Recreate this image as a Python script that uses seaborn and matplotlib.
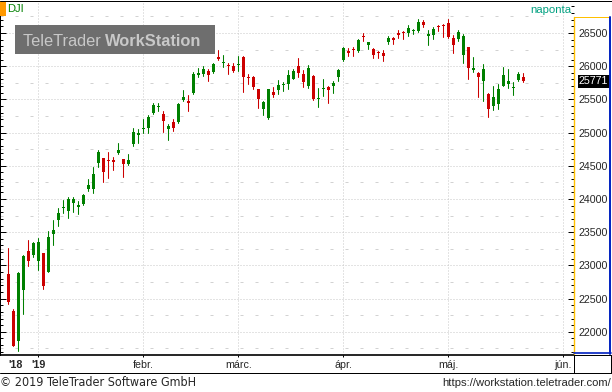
import matplotlib
matplotlib.use('Agg')
import matplotlib.pyplot as plt
import matplotlib.ticker as mticker
from matplotlib.patches import Rectangle
from matplotlib.lines import Line2D
import pandas as pd
import seaborn as sns

# DJI daily candles, 21 Dec 2018 - 22 May 2019 (exchange holidays left out)
holidays = ['2018-12-25', '2019-01-01', '2019-01-21', '2019-02-18', '2019-04-19']
dates = pd.bdate_range('2018-12-21', '2019-05-22', freq='C', holidays=holidays)

opens = [22870, 22315, 21860, 22630, 23215, 23155, 23070, 23185, 22905, 23478,
         23690, 23865, 23825, 23945, 23885, 23925, 24150, 24156, 24547, 24620,
         24590, 24590, 24690, 24605, 24525, 24830, 24965, 25050, 25075, 25291,
         25385, 25280, 25054, 25160, 25165, 25491, 25480, 25590, 25867, 25882,
         25928, 25917, 26143, 26050, 26010, 26003, 26025, 26133, 25833, 25838,
         25657, 25355, 25225, 25611, 25642, 25712, 25736, 25812, 26003, 25882,
         25707, 25852, 25510, 25660, 25682, 25702, 25842, 26093, 26234, 26250,
         26234, 26450, 26319, 26259, 26200, 26203, 26360, 26430, 26505, 26500,
         26495, 26525, 26535, 26670, 26459, 26470, 26595, 26615, 26646, 26425,
         26410, 26173, 26284, 25943, 25902, 25782, 25581, 25405, 25426, 25707,
         25732, 25675, 25792, 25837]
highs = [23265, 22340, 22900, 23150, 23380, 23350, 23410, 23185, 23518, 23690,
         23864, 23985, 24030, 24025, 23975, 24080, 24305, 24480, 24738, 24620,
         24708, 24637, 24850, 24605, 24678, 25070, 25054, 25205, 25270, 25441,
         25445, 25325, 25130, 25205, 25440, 25637, 25562, 25910, 25968, 26003,
         25963, 26050, 26244, 26168, 26043, 26043, 26154, 26155, 25883, 25853,
         25657, 25480, 25660, 25692, 25792, 25757, 25943, 25953, 26123, 25943,
         26018, 25870, 25667, 25800, 25700, 25782, 25958, 26294, 26269, 26289,
         26410, 26495, 26369, 26279, 26234, 26244, 26455, 26445, 26545, 26525,
         26620, 26560, 26711, 26696, 26545, 26586, 26620, 26635, 26706, 26470,
         26540, 26485, 26284, 26139, 25917, 26033, 25590, 25707, 25732, 25983,
         25958, 25767, 25917, 25902]
lows = [22415, 21792, 21712, 22268, 22995, 23130, 22935, 22650, 22905, 23305,
        23595, 23790, 23720, 23805, 23780, 23905, 24125, 24095, 24477, 24256,
        24320, 24437, 24678, 24336, 24512, 24803, 24848, 24998, 24998, 25280,
        25325, 25014, 24885, 25029, 25150, 25480, 25330, 25580, 25842, 25857,
        25782, 25900, 26093, 25983, 25882, 25917, 25932, 25611, 25732, 25657,
        25370, 25265, 25210, 25540, 25581, 25627, 25661, 25803, 25833, 25692,
        25672, 25491, 25390, 25556, 25441, 25592, 25782, 26078, 26153, 26158,
        26218, 26384, 26259, 26128, 26119, 26083, 26330, 26334, 26420, 26410,
        26460, 26480, 26520, 26595, 26319, 26410, 26535, 26445, 26425, 26203,
        26384, 26053, 25807, 25908, 25532, 25480, 25239, 25340, 25355, 25707,
        25676, 25566, 25777, 25760]
closes = [22450, 21792, 22880, 23140, 23065, 23330, 23346, 22690, 23433, 23531,
          23787, 23879, 24002, 23996, 23910, 24066, 24207, 24370, 24706, 24404,
          24576, 24553, 24737, 24530, 24580, 25015, 25000, 25064, 25239, 25412,
          25395, 25170, 25106, 25075, 25426, 25543, 25450, 25883, 25900, 25954,
          25867, 26032, 26108, 26058, 26000, 25932, 26033, 25842, 25822, 25692,
          25501, 25465, 25657, 25566, 25722, 25717, 25872, 25928, 25902, 25762,
          25973, 25506, 25516, 25667, 25642, 25742, 25943, 26274, 26199, 26244,
          26395, 26440, 26360, 26169, 26194, 26158, 26425, 26394, 26475, 26495,
          26575, 26535, 26670, 26616, 26485, 26560, 26590, 26610, 26445, 26324,
          26510, 26450, 25977, 25973, 25842, 25958, 25351, 25532, 25657, 25867,
          25777, 25682, 25882, 25771]

month_pos = [6, 27, 46, 67, 88, 111]
month_labels = ["'19", 'febr.', 'márc.', 'ápr.', 'máj.', 'jún.']
y_ticks = list(range(22000, 27000, 500))
last_price = 25771

df = pd.DataFrame({'date': dates, 'open': opens, 'high': highs, 'low': lows, 'close': closes})
df['idx'] = range(len(df))
df['dir'] = ['up' if c >= o else 'down' for o, c in zip(df['open'], df['close'])]
colors = {'up': '#008000', 'down': '#CC0000'}

sns.set_style('white')
plt.rcParams['font.family'] = ['Liberation Sans', 'DejaVu Sans']

W, H = 612, 392
def rect(x0, y0, x1, y1):
    return [x0 / W, 1 - y1 / H, (x1 - x0) / W, (y1 - y0) / H]

fig = plt.figure(figsize=(W / 100, H / 100), dpi=100)
ax = fig.add_axes(rect(0, 1, 573.5, 354.5))

# grid: dotted at 500s, sparse dashes at 250s, dotted month lines
for v in y_ticks:
    ax.hlines(v, -1.66, 111, colors='#C8C8C8', lw=0.72, linestyles=(0, (1, 2)), zorder=0)
    ax.hlines(v + 250, -1.66, 111, colors='#D2D2D2', lw=0.72, linestyles=(0, (3, 12)), zorder=0)
ax.hlines(21750, -1.66, 111, colors='#D2D2D2', lw=0.72, linestyles=(0, (3, 12)), zorder=0)
for p in month_pos:
    ax.axvline(p, color='#C8C8C8', lw=0.72, ls=(0, (1, 2)), zorder=0)

# wicks
wick = pd.concat([df[['idx', 'dir']].assign(price=df['low']),
                  df[['idx', 'dir']].assign(price=df['high'])])
sns.lineplot(data=wick, x='idx', y='price', hue='dir', units='idx', estimator=None,
             palette=colors, lw=0.75, legend=False, sort=False, ax=ax)
# bodies
body_h = (df['close'] - df['open']).abs().clip(lower=15)
body_b = df[['open', 'close']].min(axis=1)
ax.bar(df['idx'], body_h, bottom=body_b, width=0.6,
       color=[colors[d] for d in df['dir']], linewidth=0, zorder=3)

ax.set_xlim(-1.66, 113.04)
ax.set_ylim(21658, 26982)
ax.set_xlabel('')
ax.set_ylabel('')

ax.set_yticks(y_ticks)
ax.yaxis.set_minor_locator(mticker.MultipleLocator(100))
ax.tick_params(axis='y', which='both', left=True, right=True, labelleft=False,
               labelright=True, direction='in', color='black', width=0.72)
ax.tick_params(axis='y', which='major', length=4, pad=25, labelsize=7.7)
ax.tick_params(axis='y', which='minor', length=2.2)
for t in ax.get_yticklabels():
    t.set_horizontalalignment('right')

ax.set_xticks(month_pos)
ax.set_xticklabels(month_labels)
ax.set_xticks([0], ["'18"], minor=True)
ax.tick_params(axis='x', which='major', bottom=True, direction='out', length=1.6,
               width=0.72, color='black', pad=2.5, labelsize=7.7)
ax.tick_params(axis='x', which='minor', bottom=True, length=0, pad=4.1, labelsize=7.7)
ax.get_xticklabels()[0].set_fontweight('bold')
ax.get_xticklabels(minor=True)[0].set_fontweight('bold')
ax.get_xticklabels(minor=True)[0].set_horizontalalignment('left')

for s in ['top', 'right']:
    ax.spines[s].set_visible(False)
ax.spines['left'].set_color('black')
ax.spines['left'].set_linewidth(0.72)
ax.spines['bottom'].set_color('black')
ax.spines['bottom'].set_linewidth(1.2)

# last price box
ax.annotate(str(last_price), xy=(1, last_price), xycoords=('axes fraction', 'data'),
            xytext=(25, 0), textcoords='offset points', ha='right', va='center',
            color='white', fontsize=7.7,
            bbox=dict(boxstyle='square,pad=0.12', fc='black', ec='none'))

# frames around the axis panels
def fline(x0, y0, x1, y1, color='black', lw=0.72):
    fig.add_artist(Line2D([x0 / W, x1 / W], [1 - y0 / H, 1 - y1 / H], color=color, lw=lw))

fline(0, 0.5, 612, 0.5)
fline(573.5, 17, 573.5, 353.5, color='#FFC000', lw=1.0)
fline(574, 17, 610, 17, color='#FFC000', lw=0.72)
fline(610.3, 17, 610.3, 353.5, color='#0020C0', lw=1.4)
fline(573.5, 353.2, 611, 353.2, color='#0020C0', lw=1.2)
fline(573.5, 355, 611, 355)
fline(0, 372.5, 611, 372.5)
fline(573.5, 355, 573.5, 372.5)
fline(610.8, 355, 610.8, 372.5)

# watermark / labels
ax.add_patch(Rectangle((15 / W, 1 - 54 / H), 200 / W, 29 / H, transform=fig.transFigure,
                       facecolor='#6E6E6E', edgecolor='none', zorder=5, clip_on=False))
t1 = ax.text(23 / W, 1 - 46 / H, 'TeleTrader ', color='#C8C8C8', fontsize=11.8, zorder=6,
             transform=fig.transFigure)
ax.annotate('WorkStation', xy=(1, 0), xycoords=t1, va='bottom', ha='left',
            color='#C8C8C8', fontsize=11.8, fontweight='bold', zorder=6,
            annotation_clip=False)
fig.patches.append(Rectangle((0, 1 - 16 / H), 5.5 / W, 15 / H, transform=fig.transFigure,
                             facecolor='#FF9900', edgecolor='none'))
fig.text(7.5 / W, 1 - 8.7 / H, 'DJI', color='#008000', fontsize=8, va='center')
fig.text(571 / W, 1 - 10 / H, 'naponta', color='#00A080', fontsize=8.2, va='center', ha='right')
fig.text(0, 1 - 383 / H, '\u00a9 2019 TeleTrader Software GmbH', fontsize=9, va='center',
         family=['DejaVu Sans'], stretch='condensed')
fig.text(611 / W, 1 - 383 / H, 'https://workstation.teletrader.com/', fontsize=8.1,
         va='center', ha='right')

fig.savefig('out.png', dpi=100)
